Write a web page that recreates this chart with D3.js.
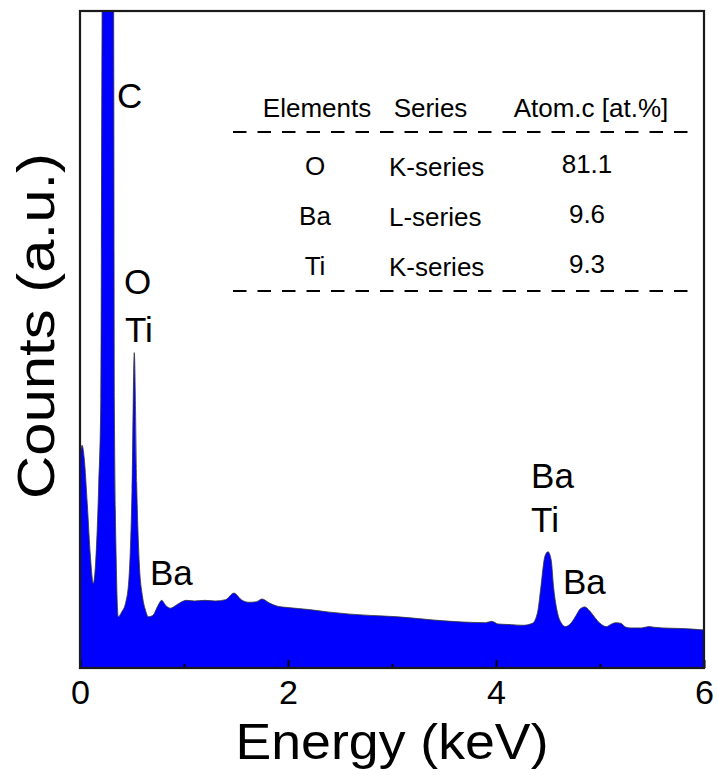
<!DOCTYPE html>
<html><head><meta charset="utf-8">
<script src="https://cdn.jsdelivr.net/npm/d3@7"></script>
<style>
body{margin:0;background:#fff;}
text{font-family:"Liberation Sans",Arial,Helvetica,sans-serif;fill:#000;}
</style>
</head><body>
<svg id="chart" width="718" height="775"></svg>
<script>
// ---- data ----
const energy = [0.00,0.02,0.04,0.07,0.10,0.128,0.15,0.18,0.20,0.21,0.23,0.27,0.31,0.325,0.33,0.35,0.368,
  0.40,0.44,0.47,0.50,0.522,0.545,0.57,0.60,0.63,0.657,0.70,0.75,0.785,0.82,0.87,0.92,0.97,1.02,
  1.10,1.20,1.30,1.40,1.48,1.55,1.63,1.70,1.75,1.82,1.90,2.00,2.20,2.40,2.60,2.80,3.05,3.20,3.40,
  3.68,3.90,3.96,4.02,4.15,4.26,4.35,4.40,4.43,4.47,4.50,4.53,4.555,4.59,4.63,4.665,4.72,4.77,4.81,
  4.855,4.90,4.95,5.00,5.06,5.10,5.15,5.20,5.25,5.30,5.40,5.47,5.52,5.60,5.80,6.00];
const counts = [320,339,320,250,170,129,160,280,408,900,1500,1700,1500,900,408,150,78,
  85,100,135,270,480,280,160,110,88,78,80,95,103,96,91,95,100,103,
  102,103,102,104,114,104,100,101,105,99,94,92,89,85,82,80,78,76,73,
  70,69,71,67,66,65,68,85,121,170,177,165,121,85,68,63,68,80,90,
  93,87,77,68,63,66,69,68,62,61,61,63,62,61,60,58];
const xTicks = [0,2,4,6];
const xMinorTicks = [1,3,5];
const peakLabelText = ["C","O","Ti","Ba","Ba","Ti","Ba"];
const peakLabelEnergy = [0.356,0.423,0.433,0.673,4.337,4.337,4.644];
const peakLabelCounts = [852,569,496,126,274,207,113];
const tableHeader = ["Elements","Series","Atom.c [at.%]"];
const tableElements = ["O","Ba","Ti"];
const tableSeries = ["K-series","L-series","K-series"];
const tableAtomic = [81.1,9.6,9.3];

// ---- layout ----
const W = 718, H = 775;
const m = {left:80, top:11, right:14, bottom:107};
const iw = W - m.left - m.right, ih = H - m.top - m.bottom;
const svg = d3.select("#chart");
const g = svg.append("g").attr("transform",`translate(${m.left},${m.top})`);

const x = d3.scaleLinear().domain([0,6]).range([0,iw]);
const y = d3.scaleLinear().domain([0,1000]).range([ih,0]);

g.append("clipPath").attr("id","clip").append("rect").attr("width",iw).attr("height",ih);

const pts = energy.map((e,i)=>[e,counts[i]]);
const area = d3.area().x(d=>x(d[0])).y0(y(0)).y1(d=>y(d[1])).curve(d3.curveMonotoneX);
const line = d3.line().x(d=>x(d[0])).y(d=>y(d[1])).curve(d3.curveMonotoneX);
g.append("path").datum(pts).attr("clip-path","url(#clip)").attr("d",area).attr("fill","#0000ff");
g.append("path").datum(pts).attr("clip-path","url(#clip)").attr("d",line)
  .attr("fill","none").attr("stroke","#333").attr("stroke-width",0.8);

// axes
const ax = g.append("g").attr("transform",`translate(0,${ih})`)
  .call(d3.axisBottom(x).tickValues(xTicks).tickFormat(d3.format("d")).tickSizeInner(-8).tickSizeOuter(0).tickPadding(12));
ax.select(".domain").remove();
ax.selectAll(".tick line").attr("stroke","#000").attr("stroke-width",2);
ax.selectAll(".tick text").style("font-size","34px").attr("fill","#000")
  .attr("textLength",19).attr("lengthAdjust","spacingAndGlyphs");
const axm = g.append("g").attr("transform",`translate(0,${ih})`)
  .call(d3.axisBottom(x).tickValues(xMinorTicks).tickFormat("").tickSizeInner(-4).tickSizeOuter(0));
axm.select(".domain").remove();
axm.selectAll(".tick line").attr("stroke","#000").attr("stroke-width",2);

// frame
g.append("rect").attr("width",iw).attr("height",ih).attr("fill","none")
  .attr("stroke","#1a1a1a").attr("stroke-width",2.2);

// axis titles
svg.append("text").attr("x",m.left+iw/2).attr("y",759).attr("text-anchor","middle")
  .style("font-size","50px").attr("textLength",313).attr("lengthAdjust","spacingAndGlyphs").text("Energy (keV)");
svg.append("text").attr("transform",`translate(54,${326}) rotate(-90)`).attr("text-anchor","middle")
  .style("font-size","52px").attr("textLength",346).attr("lengthAdjust","spacingAndGlyphs").text("Counts (a.u.)");

// peak labels
g.selectAll(".plabel").data(peakLabelText).join("text").attr("class","plabel")
  .attr("x",(d,i)=>x(peakLabelEnergy[i])).attr("y",(d,i)=>y(peakLabelCounts[i]))
  .style("font-size","35px").text(d=>d);

// table
const colX = [317, 430.5, 591];
svg.append("g").selectAll("text").data(tableHeader).join("text")
  .attr("x",(d,i)=>colX[i]).attr("y",117).attr("text-anchor","middle")
  .style("font-size","26px").text(d=>d);
[132, 291].forEach(yy=>svg.append("line").attr("x1",233).attr("x2",688).attr("y1",yy).attr("y2",yy)
  .attr("stroke","#000").attr("stroke-width",1.8).attr("stroke-dasharray","13.5,11"));
const rowY = [175, 225, 275];
const fmt = d3.format(".1f");
const rows = svg.append("g");
rows.selectAll(".el").data(tableElements).join("text").attr("class","el")
  .attr("x",315).attr("y",(d,i)=>rowY[i]).attr("text-anchor","middle").style("font-size","26px").text(d=>d);
rows.selectAll(".se").data(tableSeries).join("text").attr("class","se")
  .attr("x",389).attr("y",(d,i)=>rowY[i]+1).attr("text-anchor","start").style("font-size","26px").text(d=>d);
rows.selectAll(".va").data(tableAtomic).join("text").attr("class","va")
  .attr("x",587).attr("y",(d,i)=>rowY[i]-2).attr("text-anchor","middle").style("font-size","26px").text(d=>fmt(d));
</script>
</body></html>
